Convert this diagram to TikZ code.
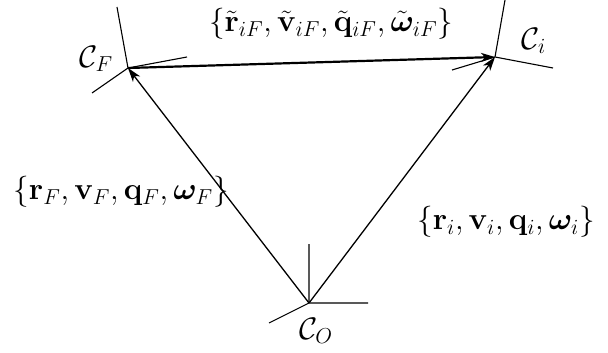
\documentclass[tikz,border=0pt]{standalone}
\usepackage{graphicx}
\usepackage{amsmath,amssymb,bm}
\usetikzlibrary{arrows.meta}
\newcommand{\biglbl}[1]{\scalebox{1.5}{\fontsize{20.74}{24}\selectfont #1}}
\begin{document}
\begin{tikzpicture}[x=1pt,y=-1pt,
  axis/.style={line width=1.1pt},
  vec/.style={line width=1.3pt,-{Stealth[length=14pt,width=9pt,inset=4pt]}},
  thickvec/.style={line width=2.2pt,-{Stealth[length=14pt,width=9pt,inset=4pt]}},
  lbl/.style={inner sep=0pt}]
\useasboundingbox (0,0) rectangle (608,353);
% frame origins
\coordinate (CF) at (128,68);
\coordinate (Ci) at (495,57);
\coordinate (CO) at (309,303);
% axes ends
\coordinate (CFa) at (117,7);
\coordinate (CFb) at (187,57);
\coordinate (CFc) at (92,93);
\coordinate (Cia) at (505,0);
\coordinate (Cib) at (553,68);
\coordinate (Cic) at (452,70);
\coordinate (COa) at (309,244);
\coordinate (COb) at (368,303);
\coordinate (COc) at (269,323);
\draw[axis] (CF) -- (CFa) (CF) -- (CFb) (CF) -- (CFc);
\draw[axis] (Ci) -- (Cia) (Ci) -- (Cib) (Ci) -- (Cic);
\draw[axis] (CO) -- (COa) (CO) -- (COb) (CO) -- (COc);
% vectors
\draw[vec] (CO) -- (CF);
\draw[vec] (CO) -- (Ci);
\draw[thickvec] (CF) -- (Ci);
% labels
\node[lbl] (lF) at (96,59) {\biglbl{$\mathcal{C}_F$}};
\node[lbl] (li) at (534,41) {\biglbl{$\mathcal{C}_i$}};
\node[lbl] (lO) at (316,331) {\biglbl{$\mathcal{C}_O$}};
\node[lbl] (ltop) at (331,24) {\biglbl{$\{\tilde{\mathbf{r}}_{iF},\tilde{\mathbf{v}}_{iF},\tilde{\mathbf{q}}_{iF},\tilde{\boldsymbol{\omega}}_{iF}\}$}};
\node[lbl] (lleft) at (121,192) {\biglbl{$\{\mathbf{r}_F,\mathbf{v}_F,\mathbf{q}_F,\boldsymbol{\omega}_F\}$}};
\node[lbl] (lright) at (506,222) {\biglbl{$\{\mathbf{r}_i,\mathbf{v}_i,\mathbf{q}_i,\boldsymbol{\omega}_i\}$}};
\end{tikzpicture}
\end{document}
